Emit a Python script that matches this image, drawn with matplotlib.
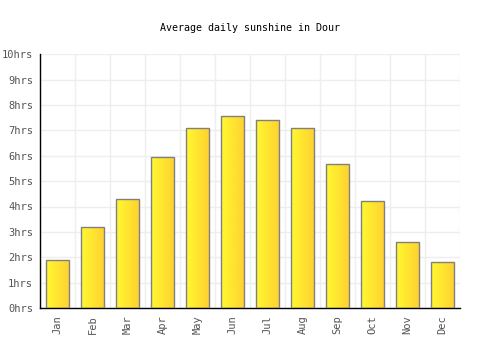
import numpy as np
import matplotlib
matplotlib.use("Agg")
from matplotlib import pyplot as plt
from matplotlib.colors import LinearSegmentedColormap
from matplotlib.patches import Rectangle

months = ["Jan", "Feb", "Mar", "Apr", "May", "Jun",
          "Jul", "Aug", "Sep", "Oct", "Nov", "Dec"]
sunshine = [1.9, 3.2, 4.3, 5.95, 7.1, 7.55, 7.42, 7.1, 5.68, 4.22, 2.6, 1.8]
yticks = list(range(0, 11))
ytick_labels = [f"{v}hrs" for v in yticks]

plt.rcParams["font.family"] = ["DejaVu Sans Mono"]

fig = plt.figure(figsize=(5, 3.5), dpi=100)
ax = fig.add_axes([0.08, 0.12, 0.84, 0.725])

cmap = LinearSegmentedColormap.from_list("sun", ["#fff830", "#ffd030"])
grad = np.linspace(0, 1, 64).reshape(1, -1)

width = 0.66
xs = np.arange(len(months))
for x, v in zip(xs, sunshine):
    x0 = x - width / 2
    rect = Rectangle((x0, 0), width, v, facecolor="none",
                     edgecolor="#808080", linewidth=1.0, zorder=3)
    ax.add_patch(rect)
    im = ax.imshow(grad, cmap=cmap, aspect="auto",
                   extent=(x0, x0 + width, 0, v), zorder=2)
    im.set_clip_path(rect)

ax.set_xlim(-0.5, len(months) - 0.5)
ax.set_ylim(0, 10)
ax.set_xticks(xs)
ax.set_xticklabels(months, rotation=90)
ax.set_yticks(yticks)
ax.set_yticklabels(ytick_labels)
ax.set_xticks(np.arange(-0.5, len(months), 1), minor=True)
ax.grid(which="minor", axis="x", color="#eeeeee", linewidth=1, zorder=0)
ax.grid(which="major", axis="y", color="#eeeeee", linewidth=1, zorder=0)
ax.set_axisbelow(True)
ax.tick_params(axis="both", which="both", length=0, labelsize=7.5,
               labelcolor="#555555", pad=5)

for side in ("top", "right"):
    ax.spines[side].set_visible(False)
for side in ("left", "bottom"):
    ax.spines[side].set_color("black")
    ax.spines[side].set_linewidth(1)

fig.text(0.5, 0.92, "Average daily sunshine in Dour", ha="center",
         va="center", fontsize=7.2, color="black")

fig.savefig("out.png", dpi=100)
